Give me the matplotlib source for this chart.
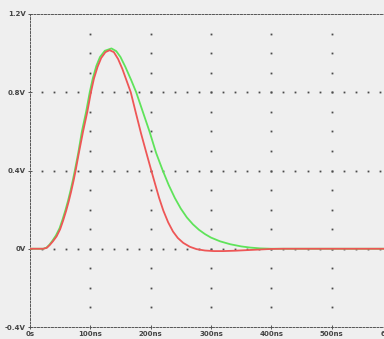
import numpy as np
import matplotlib
matplotlib.use("Agg")
import matplotlib.pyplot as plt

plt.rcParams['figure.dpi'] = 100
plt.rcParams['font.family'] = ['DejaVu Sans']

# values (time in ns, voltage in V)
red_t = [0, 22, 28, 33, 38, 44, 50, 55, 60, 64, 68, 72, 75, 81, 88, 95, 101, 106, 112, 118,
         125, 132, 139, 146, 153, 160, 167, 175, 184, 192, 201, 207, 214, 221, 229, 237, 245,
         254, 265, 276, 290, 305, 320, 340, 360, 380, 400, 420, 600]
red_v = [0, 0, 0.005, 0.02, 0.038, 0.063, 0.10, 0.145, 0.195, 0.24, 0.29, 0.345, 0.39, 0.49, 0.60,
         0.70, 0.80, 0.87, 0.93, 0.975, 1.005, 1.015, 1.005, 0.97, 0.92, 0.86, 0.80, 0.70, 0.59,
         0.50, 0.40, 0.335, 0.26, 0.195, 0.135, 0.088, 0.055, 0.030, 0.010, -0.002, -0.009, -0.012,
         -0.012, -0.010, -0.007, -0.004, -0.001, 0, 0]

green_t = [0, 22, 27, 32, 37, 43, 49, 54, 59, 63, 67, 71, 74, 80, 86, 93, 99, 104, 110, 116,
           124, 135, 143, 150, 158, 168, 176, 187, 198, 209, 220, 230, 240, 250, 260, 270, 280,
           290, 300, 315, 332, 350, 365, 381, 400, 600]
green_v = [0, 0, 0.005, 0.02, 0.04, 0.068, 0.105, 0.15, 0.2, 0.245, 0.295, 0.35, 0.395, 0.49,
           0.60, 0.70, 0.80, 0.87, 0.935, 0.98, 1.012, 1.024, 1.01, 0.98, 0.93, 0.86, 0.80, 0.70,
           0.60, 0.49, 0.40, 0.325, 0.26, 0.205, 0.16, 0.125, 0.097, 0.075, 0.057, 0.038, 0.023,
           0.012, 0.006, 0.002, 0, 0]

x_ticks = [0, 100, 200, 300, 400, 500, 600]
x_labels = ["0s", "100ns", "200ns", "300ns", "400ns", "500ns", "600ns"]
y_ticks = [-0.4, 0, 0.4, 0.8, 1.2]
y_labels = ["-0.4V", "0V", "0.4V", "0.8V", "1.2V"]

bg = '#efefef'
fig = plt.figure(figsize=(3.84, 3.39), facecolor=bg)
ax = fig.add_axes([30 / 384, 12 / 339, 362 / 384, 313 / 339], facecolor=bg)

# dotted grid, like the simulator's display
dot_col = '#4a4a4a'
for xt in x_ticks[1:-1]:
    ys = np.arange(-0.3, 1.15, 0.1)
    ax.plot(np.full(len(ys), xt), ys, ls='none', marker='s', ms=1.3, mew=0, color=dot_col, zorder=1)
for yt in y_ticks[1:-1]:
    xs = np.arange(20, 600, 20)
    ax.plot(xs, np.full(len(xs), yt), ls='none', marker='s', ms=1.3, mew=0, color=dot_col, zorder=1)

ax.plot(green_t, green_v, color='#5fe35a', lw=1.3, zorder=3)
ax.plot(red_t, red_v, color='#ee5656', lw=1.3, zorder=4)

ax.set_xlim(0, 600)
ax.set_ylim(-0.4, 1.2)
ax.set_xticks(x_ticks)
ax.set_xticklabels(x_labels)
ax.set_yticks(y_ticks)
ax.set_yticklabels(y_labels)
ax.tick_params(direction='inout', length=3, width=0.7, color='#555555',
               labelsize=5, labelcolor='#444444', pad=1.5)
for lab in ax.get_xticklabels() + ax.get_yticklabels():
    lab.set_fontweight('bold')

for side in ['left', 'top', 'bottom']:
    ax.spines[side].set_linestyle((0, (2, 1.6)))
    ax.spines[side].set_color('#555555')
    ax.spines[side].set_linewidth(0.7)
ax.spines['right'].set_visible(False)

fig.savefig("out.png", dpi=100, facecolor=bg)
